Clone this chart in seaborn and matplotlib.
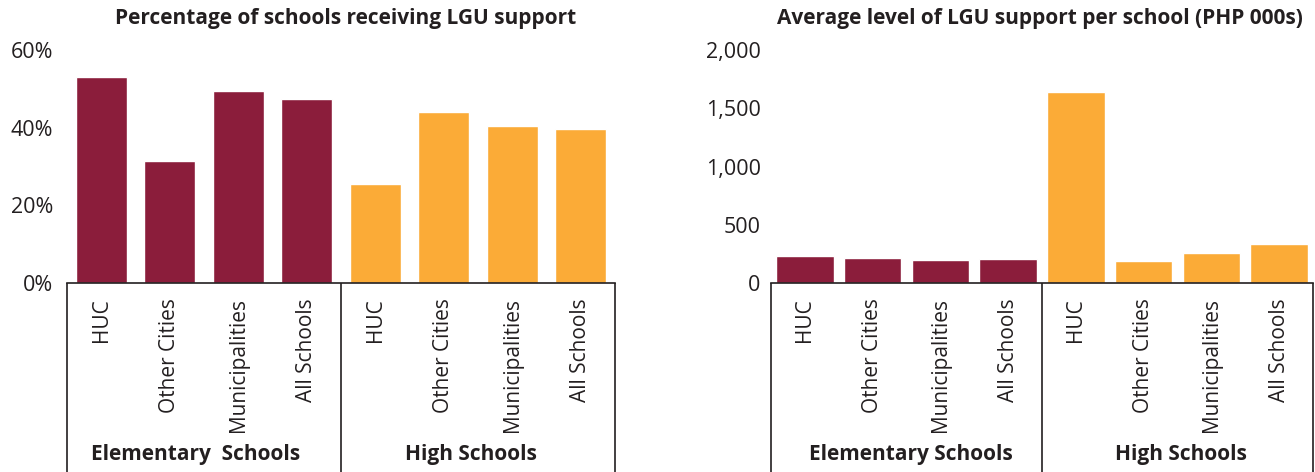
import matplotlib
matplotlib.use("Agg")
import matplotlib.pyplot as plt
import matplotlib.transforms as mtransforms
from matplotlib.ticker import FuncFormatter
import pandas as pd
import seaborn as sns

# School level groups and LGU area types
levels = ["Elementary Schools", "High Schools"]
group_labels_left = ["Elementary  Schools", "High Schools"]
group_labels_right = ["Elementary Schools", "High Schools"]
areas = ["HUC", "Other Cities", "Municipalities", "All Schools"]

# Share of schools receiving LGU support (%)
pct_elementary = [53.0, 31.4, 49.4, 47.4]
pct_high = [25.5, 44.0, 40.4, 39.7]

# Average LGU support per school (PHP 000s)
amt_elementary = [235, 215, 198, 203]
amt_high = [1638, 190, 255, 333]

palette = {"Elementary Schools": "#8B1D3B", "High Schools": "#FBAB37"}
ink = "#231F20"

sns.set_theme(style="white")
plt.rcParams["font.family"] = ["Open Sans", "DejaVu Sans"]


def build_frame(elem_vals, high_vals):
    rows = []
    for level, vals in zip(levels, [elem_vals, high_vals]):
        for area, v in zip(areas, vals):
            rows.append({"slot": f"{level}|{area}", "level": level, "area": area, "value": v})
    return pd.DataFrame(rows)


def draw_panel(ax, df, bar_width, ylim, yticks, fmt, title, title_x, ypad,
               group_labels, group_x):
    order = list(df["slot"])
    sns.barplot(data=df, x="slot", y="value", hue="level", order=order,
                palette=palette, dodge=False, width=bar_width, saturation=1,
                legend=False, ax=ax)
    ax.set_xlim(-0.5, 7.5)
    ax.set_ylim(*ylim)
    ax.set_yticks(yticks)
    ax.yaxis.set_major_formatter(FuncFormatter(fmt))
    ax.set_xticks(range(len(order)))
    ax.set_xticklabels(list(df["area"]), rotation=90, fontsize=15, color=ink)
    ax.tick_params(axis="x", length=0, pad=11)
    ax.tick_params(axis="y", length=0, pad=ypad, labelsize=15.5, labelcolor=ink)
    ax.set_xlabel("")
    ax.set_ylabel("")
    for side in ["left", "right", "top"]:
        ax.spines[side].set_visible(False)
    ax.spines["bottom"].set_color(ink)
    ax.spines["bottom"].set_linewidth(1.2)

    # Bracket below the axis separating the two school levels
    trans = mtransforms.blended_transform_factory(ax.transData, ax.transAxes)
    for x in (-0.5, 3.5, 7.5):
        ax.plot([x, x], [0, -0.9], transform=trans, color=ink, lw=1.2,
                clip_on=False, solid_capstyle="butt")
    for center, label in zip(group_x, group_labels):
        ax.text(center, -0.738, label, transform=trans, ha="center", va="center",
                fontsize=15, fontweight="bold", color=ink)

    ax.text(title_x, 1.137, title, transform=ax.transAxes, ha="center", va="center",
            fontsize=15, fontweight="bold", color=ink)


fig = plt.figure(figsize=(13.15, 4.72), dpi=100)
ax1 = fig.add_axes([67 / 1315, 189 / 472, 548 / 1315, 233 / 472])
ax2 = fig.add_axes([771 / 1315, 189 / 472, 542 / 1315, 233 / 472])

draw_panel(ax1, build_frame(pct_elementary, pct_high), 0.75, (0, 60),
           [0, 20, 40, 60], lambda v, p: f"{v:.0f}%",
           "Percentage of schools receiving LGU support", 0.508, 10,
           group_labels_left, (1.37, 5.40))
draw_panel(ax2, build_frame(amt_elementary, amt_high), 0.85, (0, 2000),
           [0, 500, 1000, 1500, 2000], lambda v, p: f"{v:,.0f}",
           "Average level of LGU support per school (PHP 000s)", 0.496, 7.5,
           group_labels_right, (1.57, 5.55))

fig.savefig("out.png", dpi=100, facecolor="white")
